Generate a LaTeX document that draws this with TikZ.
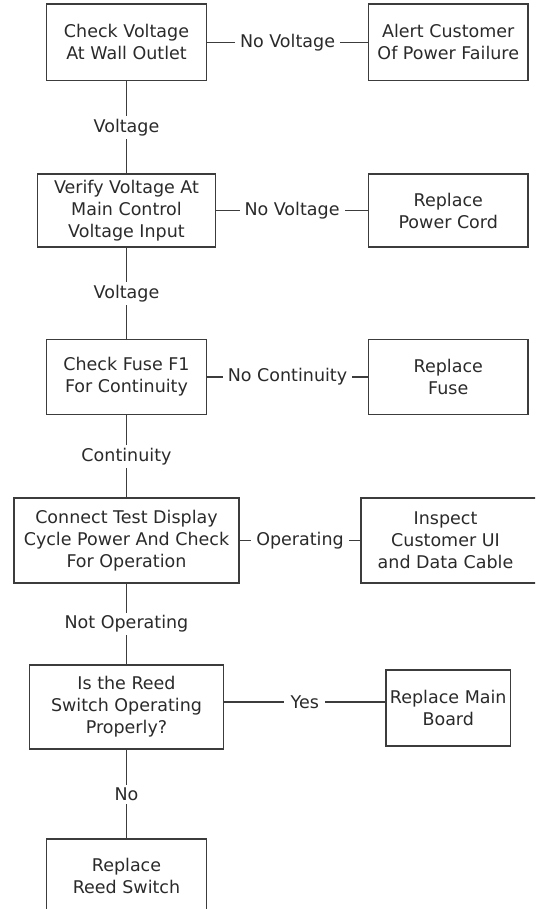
\documentclass[tikz,border=0pt]{standalone}
\usepackage{fontspec}
\setmainfont{DejaVu Sans}
\definecolor{linec}{HTML}{3C3C3C}
\definecolor{textc}{HTML}{2A2A2A}
\tikzset{
  box/.style={draw=linec, line width=1.2pt, align=center, inner sep=0pt, text=textc,
    font=\fontsize{17.5}{22}\selectfont},
  lab/.style={fill=white, inner xsep=5pt, inner ysep=3pt, text=textc,
    font=\fontsize{17.5}{22}\selectfont},
  conn/.style={draw=linec, line width=1.2pt}
}
\begin{document}
\begin{tikzpicture}[x=1pt,y=-1pt]
\useasboundingbox (0,0) rectangle (535,909);
\clip (0,0) rectangle (535,909);
% left column
\node[box, minimum width=160pt, minimum height=76.5pt] (b1) at (126.5,42.25) {Check Voltage\\At Wall Outlet};
\node[box, minimum width=178pt, minimum height=73pt] (b2) at (126.5,210.5) {Verify Voltage At\\Main Control\\Voltage Input};
\node[box, minimum width=160pt, minimum height=75pt] (b3) at (126.5,377) {Check Fuse F1\\For Continuity};
\node[box, minimum width=225pt, minimum height=85pt] (b4) at (126.5,540.5) {Connect Test Display\\Cycle Power And Check\\For Operation};
\node[box, minimum width=194pt, minimum height=84pt] (b5) at (126.5,707) {Is the Reed\\Switch Operating\\Properly?};
\node[box, minimum width=160pt, minimum height=73pt] (b6) at (126.5,875.5) {Replace\\Reed Switch};
% right column
\node[box, minimum width=159.5pt, minimum height=76.5pt] (r1) at (448.25,42.25) {Alert Customer\\Of Power Failure};
\node[box, minimum width=159.5pt, minimum height=73pt] (r2) at (448.25,210.5) {Replace\\Power Cord};
\node[box, minimum width=159.5pt, minimum height=75pt] (r3) at (448.25,377) {Replace\\Fuse};
\node[box, minimum width=199pt, minimum height=85pt] (r4) at (460.5,540.5) {\hspace*{-30pt}Inspect\\\hspace*{-30pt}Customer UI\\\hspace*{-30pt}and Data Cable};
\node[box, minimum width=124.5pt, minimum height=76pt] (r5) at (448.25,708) {Replace Main\\Board};
% vertical connectors
\draw[conn] (b1) -- node[lab]{Voltage} (b2);
\draw[conn] (b2) -- node[lab]{Voltage} (b3);
\draw[conn] (b3) -- node[lab]{Continuity} (b4);
\draw[conn] (b4) -- node[lab]{Not Operating} (b5);
\draw[conn] (b5) -- node[lab]{No} (b6);
% horizontal connectors
\draw[conn] (b1) -- node[lab]{No Voltage} (r1);
\draw[conn] (b2) -- node[lab]{No Voltage} (r2);
\draw[conn] (b3) -- node[lab]{No Continuity} (r3);
\draw[conn] (b4) -- node[lab]{Operating} (r4);
\draw[conn] ([yshift=5pt]b5.east) -- node[lab, inner xsep=6.5pt]{Yes} ([yshift=6pt]r5.west);
\end{tikzpicture}
\end{document}
